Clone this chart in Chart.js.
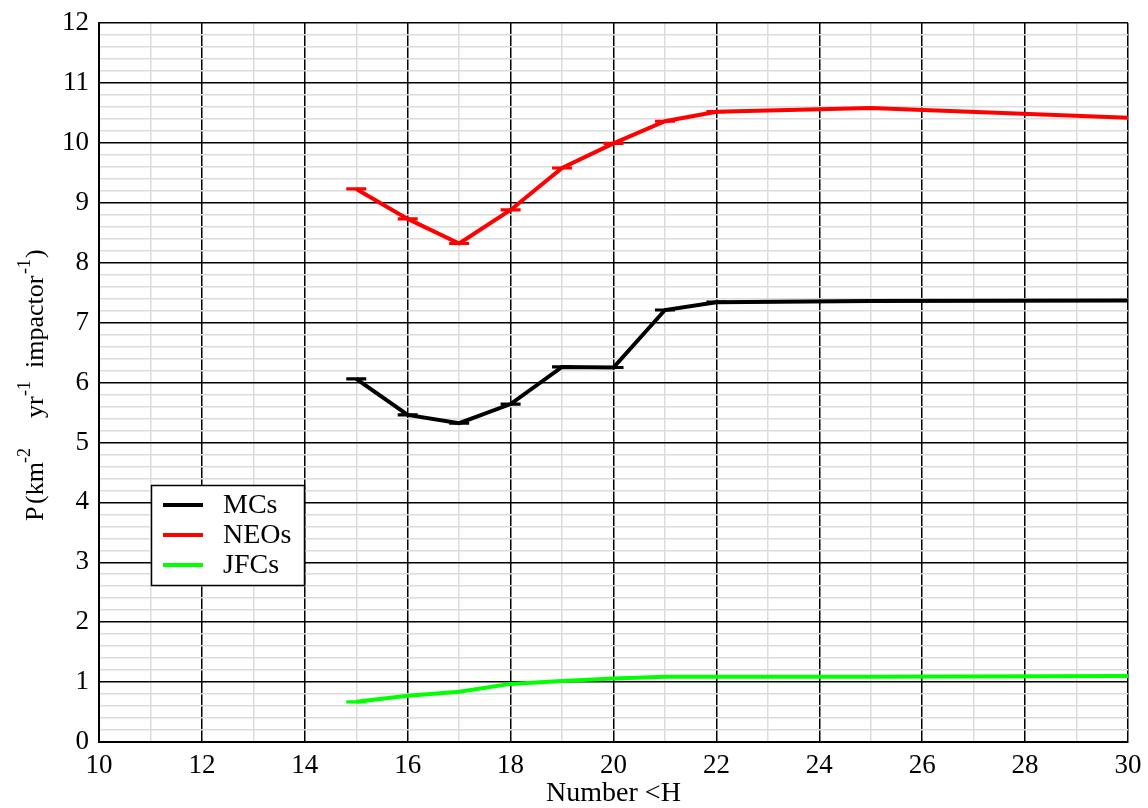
<!DOCTYPE html>
<html lang="en">
<head>
<meta charset="UTF-8">
<title>P vs Number &lt;H</title>
<style>
  html, body { margin: 0; padding: 0; background: #fff; }
  #wrap { width: 1148px; height: 808px; }
</style>
</head>
<body>
<div id="wrap"><canvas id="myChart" width="1148" height="808"></canvas></div>
<script src="https://cdn.jsdelivr.net/npm/chart.js@4.4.1/dist/chart.umd.min.js"></script>
<script>
  // ---------------------------------------------------------------- data
  var hValues = [15, 16, 17, 18, 19, 20, 21, 22, 25, 30]
  var mcs  = [6.06, 5.46, 5.32, 5.64, 6.26, 6.25, 7.21, 7.34, 7.36, 7.37]
  var neos = [9.23, 8.73, 8.32, 8.88, 9.58, 9.99, 10.36, 10.52, 10.58, 10.42]
  var jfcs = [0.67, 0.77, 0.84, 0.97, 1.02, 1.06, 1.09, 1.09, 1.09, 1.10]
  // error bar half-heights (tiny), 0 = no cap drawn
  var mcsErr  = [0.01, 0.01, 0.01, 0.01, 0.01, 0.01, 0.01, 0.01, 0, 0]
  var neosErr = [0.01, 0.01, 0.01, 0.01, 0.01, 0.01, 0.01, 0.01, 0, 0]
  var jfcsErr = [0.01, 0, 0, 0, 0, 0, 0, 0, 0, 0]
  var seriesNames = ['MCs', 'NEOs', 'JFCs']
  var seriesColors = ['#000000', '#ff0000', '#00ff00']

  var SERIF = '"Liberation Serif", "Times New Roman", serif'

  function pts(ys) {
    return hValues.map(function (x, i) { return { x: x, y: ys[i] } })
  }
  function isInt(v) { return Math.abs(v - Math.round(v)) < 1e-6 }

  // ---------------------------------------------------------------- plugins
  var errorBars = {
    id: 'errorBars',
    afterDatasetsDraw: function (chart) {
      var ctx = chart.ctx
      var xs = chart.scales.x, ys = chart.scales.y
      var errs = [mcsErr, neosErr, jfcsErr]
      ctx.save()
      chart.data.datasets.forEach(function (ds, k) {
        ctx.strokeStyle = ds.borderColor
        ctx.lineWidth = 2
        ds.data.forEach(function (p, i) {
          var e = errs[k][i]
          if (!e) return
          var px = xs.getPixelForValue(p.x)
          var top = ys.getPixelForValue(p.y + e)
          var bot = ys.getPixelForValue(p.y - e)
          ctx.beginPath()
          ctx.moveTo(px, top); ctx.lineTo(px, bot)
          ctx.moveTo(px - 10, top); ctx.lineTo(px + 10, top)
          ctx.moveTo(px - 10, bot); ctx.lineTo(px + 10, bot)
          ctx.stroke()
        })
      })
      ctx.restore()
    }
  }

  var boxLegend = {
    id: 'boxLegend',
    afterDraw: function (chart) {
      var ctx = chart.ctx
      ctx.save()
      ctx.fillStyle = '#fff'
      ctx.fillRect(151, 485, 153, 100)
      ctx.strokeStyle = '#000'
      ctx.lineWidth = 1.5
      ctx.strokeRect(151.5, 485.5, 153, 100)
      ctx.font = '28px ' + SERIF
      ctx.textBaseline = 'middle'
      seriesNames.forEach(function (name, i) {
        var y = 505 + i * 30
        ctx.strokeStyle = seriesColors[i]
        ctx.lineWidth = 4
        ctx.beginPath()
        ctx.moveTo(163, y); ctx.lineTo(203, y)
        ctx.stroke()
        ctx.fillStyle = '#000'
        ctx.fillText(name, 223, y + 1)
      })
      ctx.restore()
    }
  }

  // rotated y title with superscripts: [text, superscript?, start y]
  var yTitle = {
    id: 'yTitle',
    afterDraw: function (chart) {
      var ctx = chart.ctx
      var parts = [
        ['P', 0, 521], ['(km', 0, 504], ['-2', 1, 463], ['yr', 0, 418],
        ['-1', 1, 396], ['impactor', 0, 368], ['-1', 1, 274], [')', 0, 258]
      ]
      ctx.save()
      ctx.fillStyle = '#000'
      ctx.textBaseline = 'alphabetic'
      parts.forEach(function (p) {
        ctx.save()
        ctx.translate(p[1] ? 30 : 43, p[2])
        ctx.rotate(-Math.PI / 2)
        ctx.font = (p[1] ? '18px ' : '26px ') + SERIF
        ctx.fillText(p[0], 0, 0)
        ctx.restore()
      })
      ctx.restore()
    }
  }

  // ---------------------------------------------------------------- chart
  var ctx = document.getElementById('myChart').getContext('2d')

  var myChart = new Chart(ctx, {
    type: 'line',
    data: {
      datasets: [
        { label: seriesNames[0], data: pts(mcs),  borderColor: seriesColors[0], borderWidth: 4, pointRadius: 0, fill: false, tension: 0 },
        { label: seriesNames[1], data: pts(neos), borderColor: seriesColors[1], borderWidth: 4, pointRadius: 0, fill: false, tension: 0 },
        { label: seriesNames[2], data: pts(jfcs), borderColor: seriesColors[2], borderWidth: 4, pointRadius: 0, fill: false, tension: 0 }
      ]
    },
    options: {
      responsive: false,
      animation: false,
      layout: { padding: { left: 0, right: 20, top: 23, bottom: 0 } },
      plugins: { legend: { display: false }, tooltip: { enabled: false } },
      scales: {
        x: {
          type: 'linear',
          min: 10,
          max: 30,
          afterFit: function (s) { s.height = 66; s.paddingLeft = 0; s.paddingRight = 0 },
          border: { color: '#000', width: 2 },
          grid: {
            drawTicks: false,
            lineWidth: 1.5,
            color: function (c) { return c.tick.value % 2 === 0 ? '#000' : '#dcdcdc' }
          },
          ticks: {
            stepSize: 1,
            autoSkip: false,
            maxRotation: 0,
            padding: 8,
            color: '#000',
            font: { family: SERIF, size: 27 },
            callback: function (v) { return v % 2 === 0 ? v : '' }
          },
          title: {
            display: true,
            text: 'Number <H',
            color: '#000',
            font: { family: SERIF, size: 28, lineHeight: 1.0 },
            padding: { top: 0, bottom: 0 }
          }
        },
        y: {
          type: 'linear',
          min: 0,
          max: 12,
          afterFit: function (s) { s.width = 99; s.paddingTop = 0; s.paddingBottom = 0 },
          border: { color: '#000', width: 2 },
          grid: {
            drawTicks: false,
            lineWidth: 1.5,
            color: function (c) { return isInt(c.tick.value) ? '#000' : '#dcdcdc' }
          },
          ticks: {
            stepSize: 0.2,
            autoSkip: false,
            padding: 10,
            color: '#000',
            font: { family: SERIF, size: 27 },
            callback: function (v) { return isInt(v) ? Math.round(v) : '' }
          }
        }
      }
    },
    plugins: [errorBars, boxLegend, yTitle]
  })
</script>
</body>
</html>
